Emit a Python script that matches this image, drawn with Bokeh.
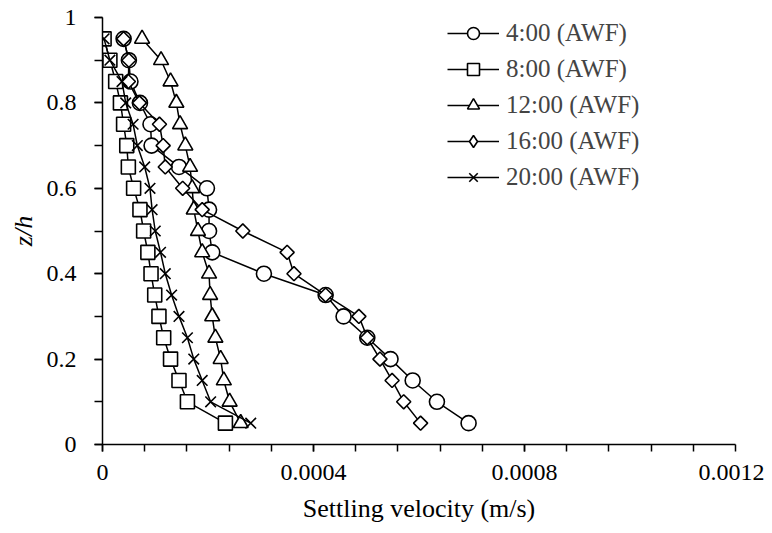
import math
from bokeh.plotting import figure
from bokeh.models import Range1d, FixedTicker, Legend, LegendItem
from bokeh.embed import file_html
from bokeh.resources import INLINE

# ---- data ----
z_levels = [0.95, 0.90, 0.85, 0.80, 0.75, 0.70, 0.65, 0.60, 0.55, 0.50,
            0.45, 0.40, 0.35, 0.30, 0.25, 0.20, 0.15, 0.10, 0.05]

v_0400 = [0.000040, 0.000050, 0.000053, 0.000071, 0.000091, 0.000093, 0.000145,
          0.000198, 0.000202, 0.000202, 0.000208, 0.000306, 0.000423, 0.000457,
          0.000502, 0.000546, 0.000588, 0.000634, 0.000694]
v_0800 = [0.000003, 0.000014, 0.000025, 0.000034, 0.000040, 0.000046, 0.000049,
          0.000059, 0.000071, 0.000078, 0.000086, 0.000092, 0.000099, 0.000107,
          0.000116, 0.000129, 0.000145, 0.000161, 0.000233]
v_1200 = [0.000075, 0.000111, 0.000129, 0.000140, 0.000147, 0.000157, 0.000166,
          0.000170, 0.000173, 0.000181, 0.000189, 0.000202, 0.000204, 0.000208,
          0.000214, 0.000224, 0.000230, 0.000241, 0.000262]
v_1600 = [0.000040, 0.000050, 0.000049, 0.000070, 0.000108, 0.000115, 0.000119,
          0.000152, 0.000189, 0.000266, 0.000350, 0.000363, 0.000423, 0.000486,
          0.000502, 0.000526, 0.000549, 0.000571, 0.000603]
v_2000 = [0.000003, 0.000014, 0.000037, 0.000044, 0.000058, 0.000066, 0.000080,
          0.000090, 0.000094, 0.000100, 0.000110, 0.000119, 0.000131, 0.000145,
          0.000161, 0.000173, 0.000189, 0.000205, 0.000281]

series_names = ["4:00 (AWF)", "8:00 (AWF)", "12:00 (AWF)", "16:00 (AWF)", "20:00 (AWF)"]

x_ticks = [0, 0.0004, 0.0008, 0.0012]
x_tick_labels = ["0", "0.0004", "0.0008", "0.0012"]
x_minor = [i * 0.00008 for i in range(16)]
y_ticks = [0, 0.2, 0.4, 0.6, 0.8, 1.0]
y_tick_labels = ["0", "0.2", "0.4", "0.6", "0.8", "1"]
y_minor = [i * 0.1 for i in range(11)]

FONT = "Liberation Serif"

p = figure(width=764, height=525, output_backend="svg", toolbar_location=None,
           x_range=Range1d(0, 0.0012), y_range=Range1d(0, 1),
           min_border_left=102, min_border_right=29, min_border_top=17,
           min_border_bottom=81)
p.outline_line_color = None
p.xgrid.visible = False
p.ygrid.visible = False
p.background_fill_color = "white"
p.border_fill_color = "white"
# range used only by the legend swatches (their points fall outside the frame)
p.extra_y_ranges = {"legend_only": Range1d(5, 6)}

styles = [
    dict(marker="circle", size=15, angle=0, lmarker="circle"),
    dict(marker="square", size=14, angle=0, lmarker="square"),
    dict(marker="triangle", size=15, angle=0, lmarker="triangle"),
    dict(marker="square", size=10, angle=math.pi / 4, lmarker="diamond"),
    dict(marker="x", size=15, angle=0, lmarker="x"),
]
data = [v_0400, v_0800, v_1200, v_1600, v_2000]

items = []
for name, vals, st in zip(series_names, data, styles):
    ln = p.line(vals, z_levels, line_color="black", line_width=1.5)
    p.scatter(vals, z_levels, marker=st["marker"], size=st["size"],
              angle=st["angle"], line_color="black", line_width=1.6,
              fill_color="white")
    lg = p.scatter(vals, z_levels, marker=st["lmarker"], size=12,
                   line_color="black", line_width=1.6, fill_color="white",
                   y_range_name="legend_only")
    items.append(LegendItem(label=name, renderers=[ln, lg]))

legend = Legend(items=items, location=(345, 252))
legend.border_line_color = None
legend.background_fill_alpha = 0
legend.label_text_font = FONT
legend.label_text_font_size = "25px"
legend.glyph_width = 52
legend.glyph_height = 30
legend.label_height = 30
legend.spacing = 6
legend.padding = 0
legend.margin = 0
legend.label_standoff = 7
p.add_layout(legend)

for ax in (p.xaxis[0], p.yaxis[0]):
    ax.axis_line_color = "black"
    ax.axis_line_width = 1.5
    ax.major_tick_line_color = "black"
    ax.minor_tick_line_color = "black"
    ax.major_tick_line_width = 1.5
    ax.minor_tick_line_width = 1.5
    ax.major_tick_in = 0
    ax.minor_tick_in = 0
    ax.major_label_text_font = FONT
    ax.major_label_text_font_size = "24px"
    ax.major_label_text_color = "black"
    ax.axis_label_text_font = FONT
    ax.axis_label_text_font_size = "26px"
    ax.axis_label_text_color = "black"

p.xaxis[0].major_tick_out = 7
p.xaxis[0].minor_tick_out = 7
p.yaxis[0].major_tick_out = 8
p.yaxis[0].minor_tick_out = 8

p.xaxis[0].ticker = FixedTicker(ticks=x_ticks, minor_ticks=x_minor)
p.xaxis[0].major_label_overrides = dict(zip(x_ticks, x_tick_labels))
p.xaxis[0].axis_label = "Settling velocity (m/s)"
p.xaxis[0].axis_label_text_font_style = "normal"
p.xaxis[0].major_label_standoff = 13
p.xaxis[0].axis_label_standoff = 11

p.yaxis[0].ticker = FixedTicker(ticks=y_ticks, minor_ticks=y_minor)
p.yaxis[0].major_label_overrides = dict(zip(y_ticks, y_tick_labels))
p.yaxis[0].axis_label = "z/h"
p.yaxis[0].axis_label_text_font_style = "italic"
p.yaxis[0].major_label_standoff = 18
p.yaxis[0].axis_label_standoff = 6

open("out.html", "w").write(file_html(p, INLINE))
